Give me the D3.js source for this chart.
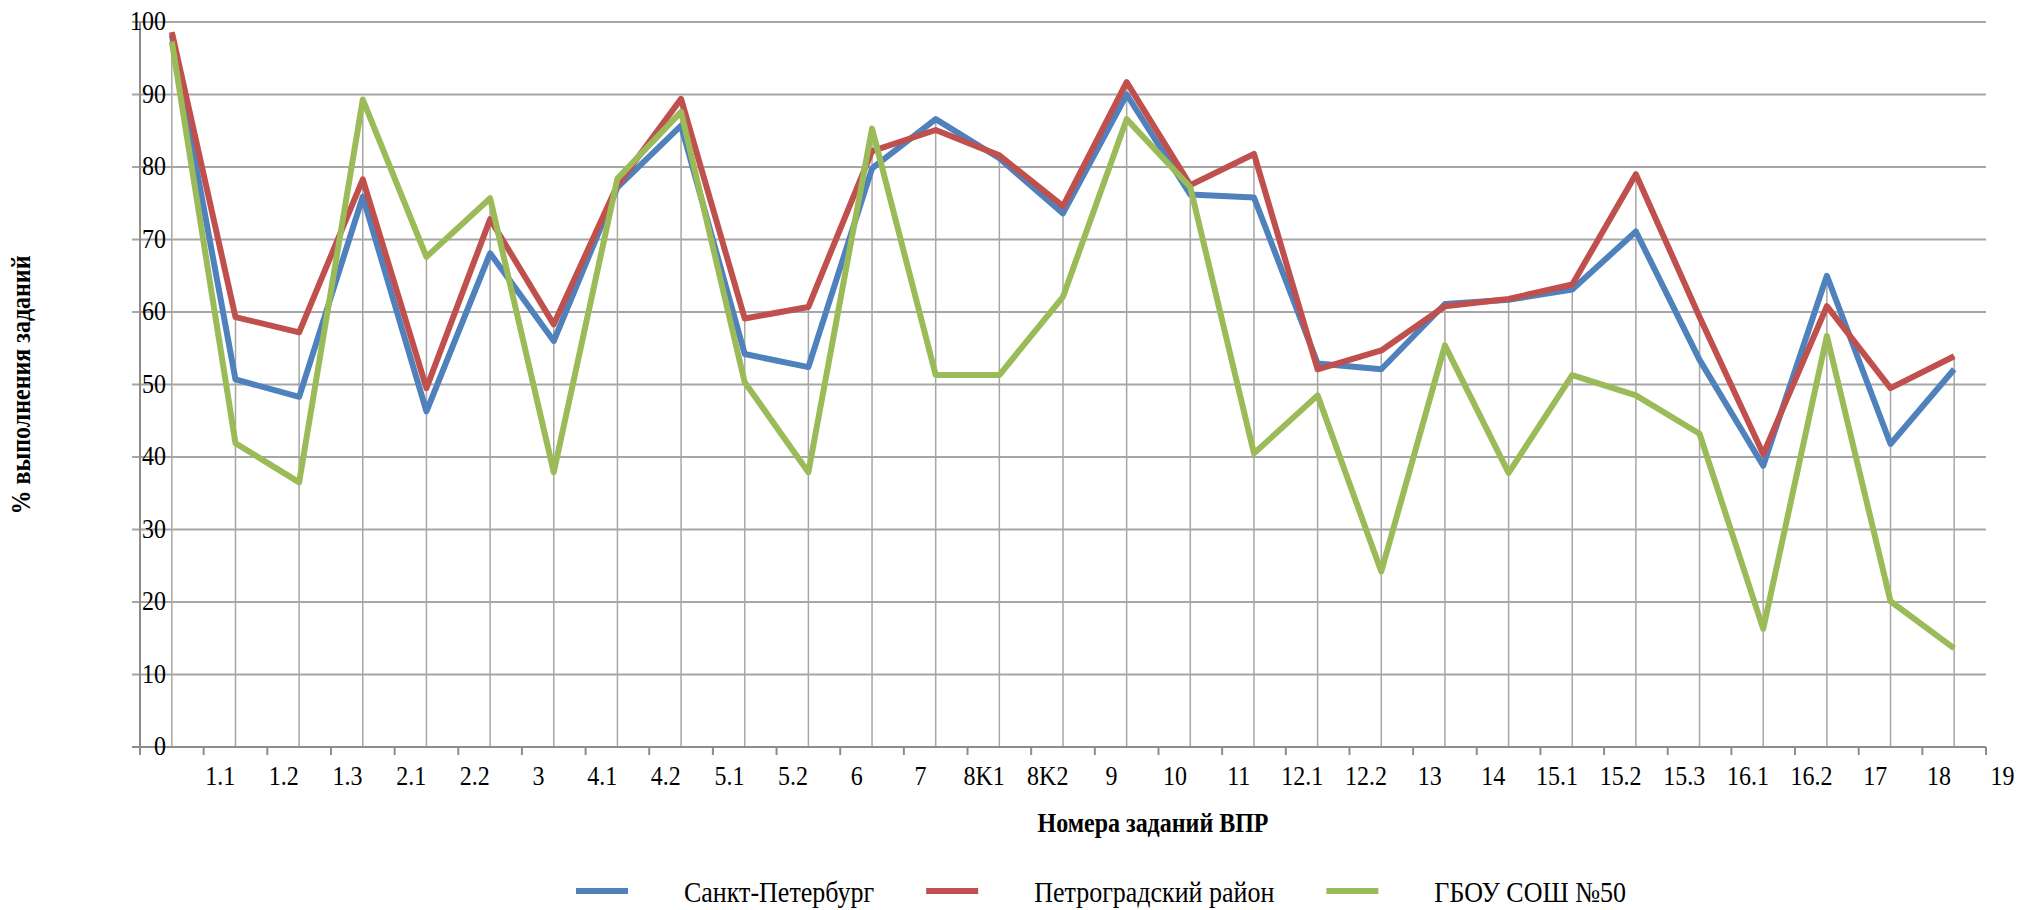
<!DOCTYPE html>
<html>
<head>
<meta charset="utf-8">
<script src="https://cdn.jsdelivr.net/npm/d3@7"></script>
<style>
  body { margin: 0; background: #fff; }
</style>
</head>
<body>
<div id="chart"></div>
<script>
"use strict";

/* DATA */

// task numbers (x tick labels)
let tasks = ["1.1", "1.2", "1.3", "2.1", "2.2", "3", "4.1", "4.2", "5.1", "5.2",
    "6", "7", "8K1", "8K2", "9", "10", "11", "12.1", "12.2", "13",
    "14", "15.1", "15.2", "15.3", "16.1", "16.2", "17", "18", "19"];

// % of completed tasks, one list per series
let spb = [98.2, 50.7, 48.3, 75.9, 46.3, 68.1, 56.0, 77.2, 85.7, 54.2,
    52.4, 79.8, 86.6, 81.2, 73.6, 90.0, 76.2, 75.8, 52.9, 52.1,
    61.1, 61.7, 63.1, 71.1, 53.4, 38.8, 65.0, 41.8, 52.1];
let petr = [98.6, 59.3, 57.2, 78.3, 49.5, 72.8, 58.3, 77.5, 89.4, 59.1,
    60.7, 82.2, 85.1, 81.6, 74.6, 91.7, 77.5, 81.8, 52.1, 54.7,
    60.8, 61.8, 63.8, 79.0, 59.3, 40.4, 60.8, 49.5, 53.9];
let school = [97.3, 41.9, 36.5, 89.3, 67.6, 75.7, 37.9, 78.4, 87.6, 50.3,
    37.9, 85.3, 51.3, 51.3, 62.1, 86.6, 77.2, 40.5, 48.5, 24.2,
    55.4, 37.8, 51.3, 48.5, 43.2, 16.3, 56.7, 20.1, 13.6];

let seriesNames = ["Санкт-Петербург", "Петроградский район", "ГБОУ СОШ №50"];
let seriesColors = ["#4f81bd", "#c0504d", "#9bbb59"];
let yTicks = [0, 10, 20, 30, 40, 50, 60, 70, 80, 90, 100];

let series = [spb, petr, school];

/* SVG SETUP */

let svgWidth = 2022;
let svgHeight = 910;

let svg = d3.select("#chart")
    .append("svg")
    .attr("width", svgWidth)
    .attr("height", svgHeight);

// plot area edges
let plotLeft = 140;
let plotRight = 1986;
let plotTop = 22;
let plotBottom = 747;

// serif font, a bit taller than it is wide in the source
let fontFamily = "'Liberation Serif', 'Times New Roman', Times, serif";
let stretch = 1.12;

function addText(x, y, str, size, anchor, bold) {
    return svg.append("text")
        .attr("transform", "translate(" + x + "," + y + ") scale(1," + stretch + ")")
        .attr("text-anchor", anchor)
        .attr("font-family", fontFamily)
        .attr("font-size", size + "px")
        .attr("font-weight", bold ? "bold" : "normal")
        .attr("fill", "#000")
        .text(str);
}

/* SCALES */

let xScale = d3.scaleBand()
    .domain(tasks)
    .range([plotLeft, plotRight]);

let yScale = d3.scaleLinear()
    .domain([0, 100])
    .range([plotBottom, plotTop]);

let bw = xScale.bandwidth();
function px(t) { return xScale(t) + bw / 2; }

/* GRID */

// horizontal gridlines, running out past the axis as ticks
svg.append("g")
    .selectAll("line")
    .data(yTicks)
    .join("line")
    .attr("x1", plotLeft - 8)
    .attr("x2", plotRight)
    .attr("y1", d => yScale(d))
    .attr("y2", d => yScale(d))
    .attr("stroke", "#a6a6a6")
    .attr("stroke-width", 2);

// drop lines from the highest point of each task to the axis
svg.append("g")
    .selectAll("line")
    .data(tasks)
    .join("line")
    .attr("x1", d => px(d))
    .attr("x2", d => px(d))
    .attr("y1", (d, i) => yScale(Math.max(spb[i], petr[i], school[i])))
    .attr("y2", plotBottom)
    .attr("stroke", "#a6a6a6")
    .attr("stroke-width", 1.5);

/* AXES */

// y axis line
svg.append("line")
    .attr("x1", plotLeft).attr("x2", plotLeft)
    .attr("y1", plotTop).attr("y2", plotBottom + 8)
    .attr("stroke", "#8c8c8c")
    .attr("stroke-width", 2);

// x axis line with ticks on the band edges
svg.append("line")
    .attr("x1", plotLeft - 8).attr("x2", plotRight)
    .attr("y1", plotBottom).attr("y2", plotBottom)
    .attr("stroke", "#8c8c8c")
    .attr("stroke-width", 2);

let edges = tasks.map(t => xScale(t)).concat([plotRight]);
svg.append("g")
    .selectAll("line")
    .data(edges)
    .join("line")
    .attr("x1", d => d).attr("x2", d => d)
    .attr("y1", plotBottom).attr("y2", plotBottom + 8)
    .attr("stroke", "#8c8c8c")
    .attr("stroke-width", 2);

// y tick labels (they sit over the axis, right aligned)
yTicks.forEach(v => {
    addText(plotLeft + 26, yScale(v) + 8, v, 24, "end", false);
});

// x tick labels, shifted right of their points like in the source
tasks.forEach(t => {
    addText(xScale(t) + bw * 1.26, plotBottom + 38, t, 24, "middle", false);
});

/* LINES */

let line = d3.line()
    .x((d, i) => px(tasks[i]))
    .y(d => yScale(d));

series.forEach((s, k) => {
    svg.append("path")
        .datum(s)
        .attr("d", line)
        .attr("fill", "none")
        .attr("stroke", seriesColors[k])
        .attr("stroke-width", 6)
        .attr("stroke-linejoin", "round");
});

/* TITLES */

addText(1153, 832, "Номера заданий ВПР", 24, "middle", true);

svg.append("text")
    .attr("transform", "translate(30,385) rotate(-90) scale(1," + stretch + ")")
    .attr("text-anchor", "middle")
    .attr("font-family", fontFamily)
    .attr("font-size", "24px")
    .attr("font-weight", "bold")
    .text("% выполнения заданий");

/* LEGEND */

let legendX = 576;
let legendY = 891;

seriesNames.forEach((name, k) => {
    svg.append("line")
        .attr("x1", legendX).attr("x2", legendX + 52)
        .attr("y1", legendY).attr("y2", legendY)
        .attr("stroke", seriesColors[k])
        .attr("stroke-width", 6);

    let label = addText(legendX + 108, legendY + 11, name, 26, "start", false);
    let w = label.node().getComputedTextLength();
    legendX = legendX + 108 + w + 52;
});
</script>
</body>
</html>
